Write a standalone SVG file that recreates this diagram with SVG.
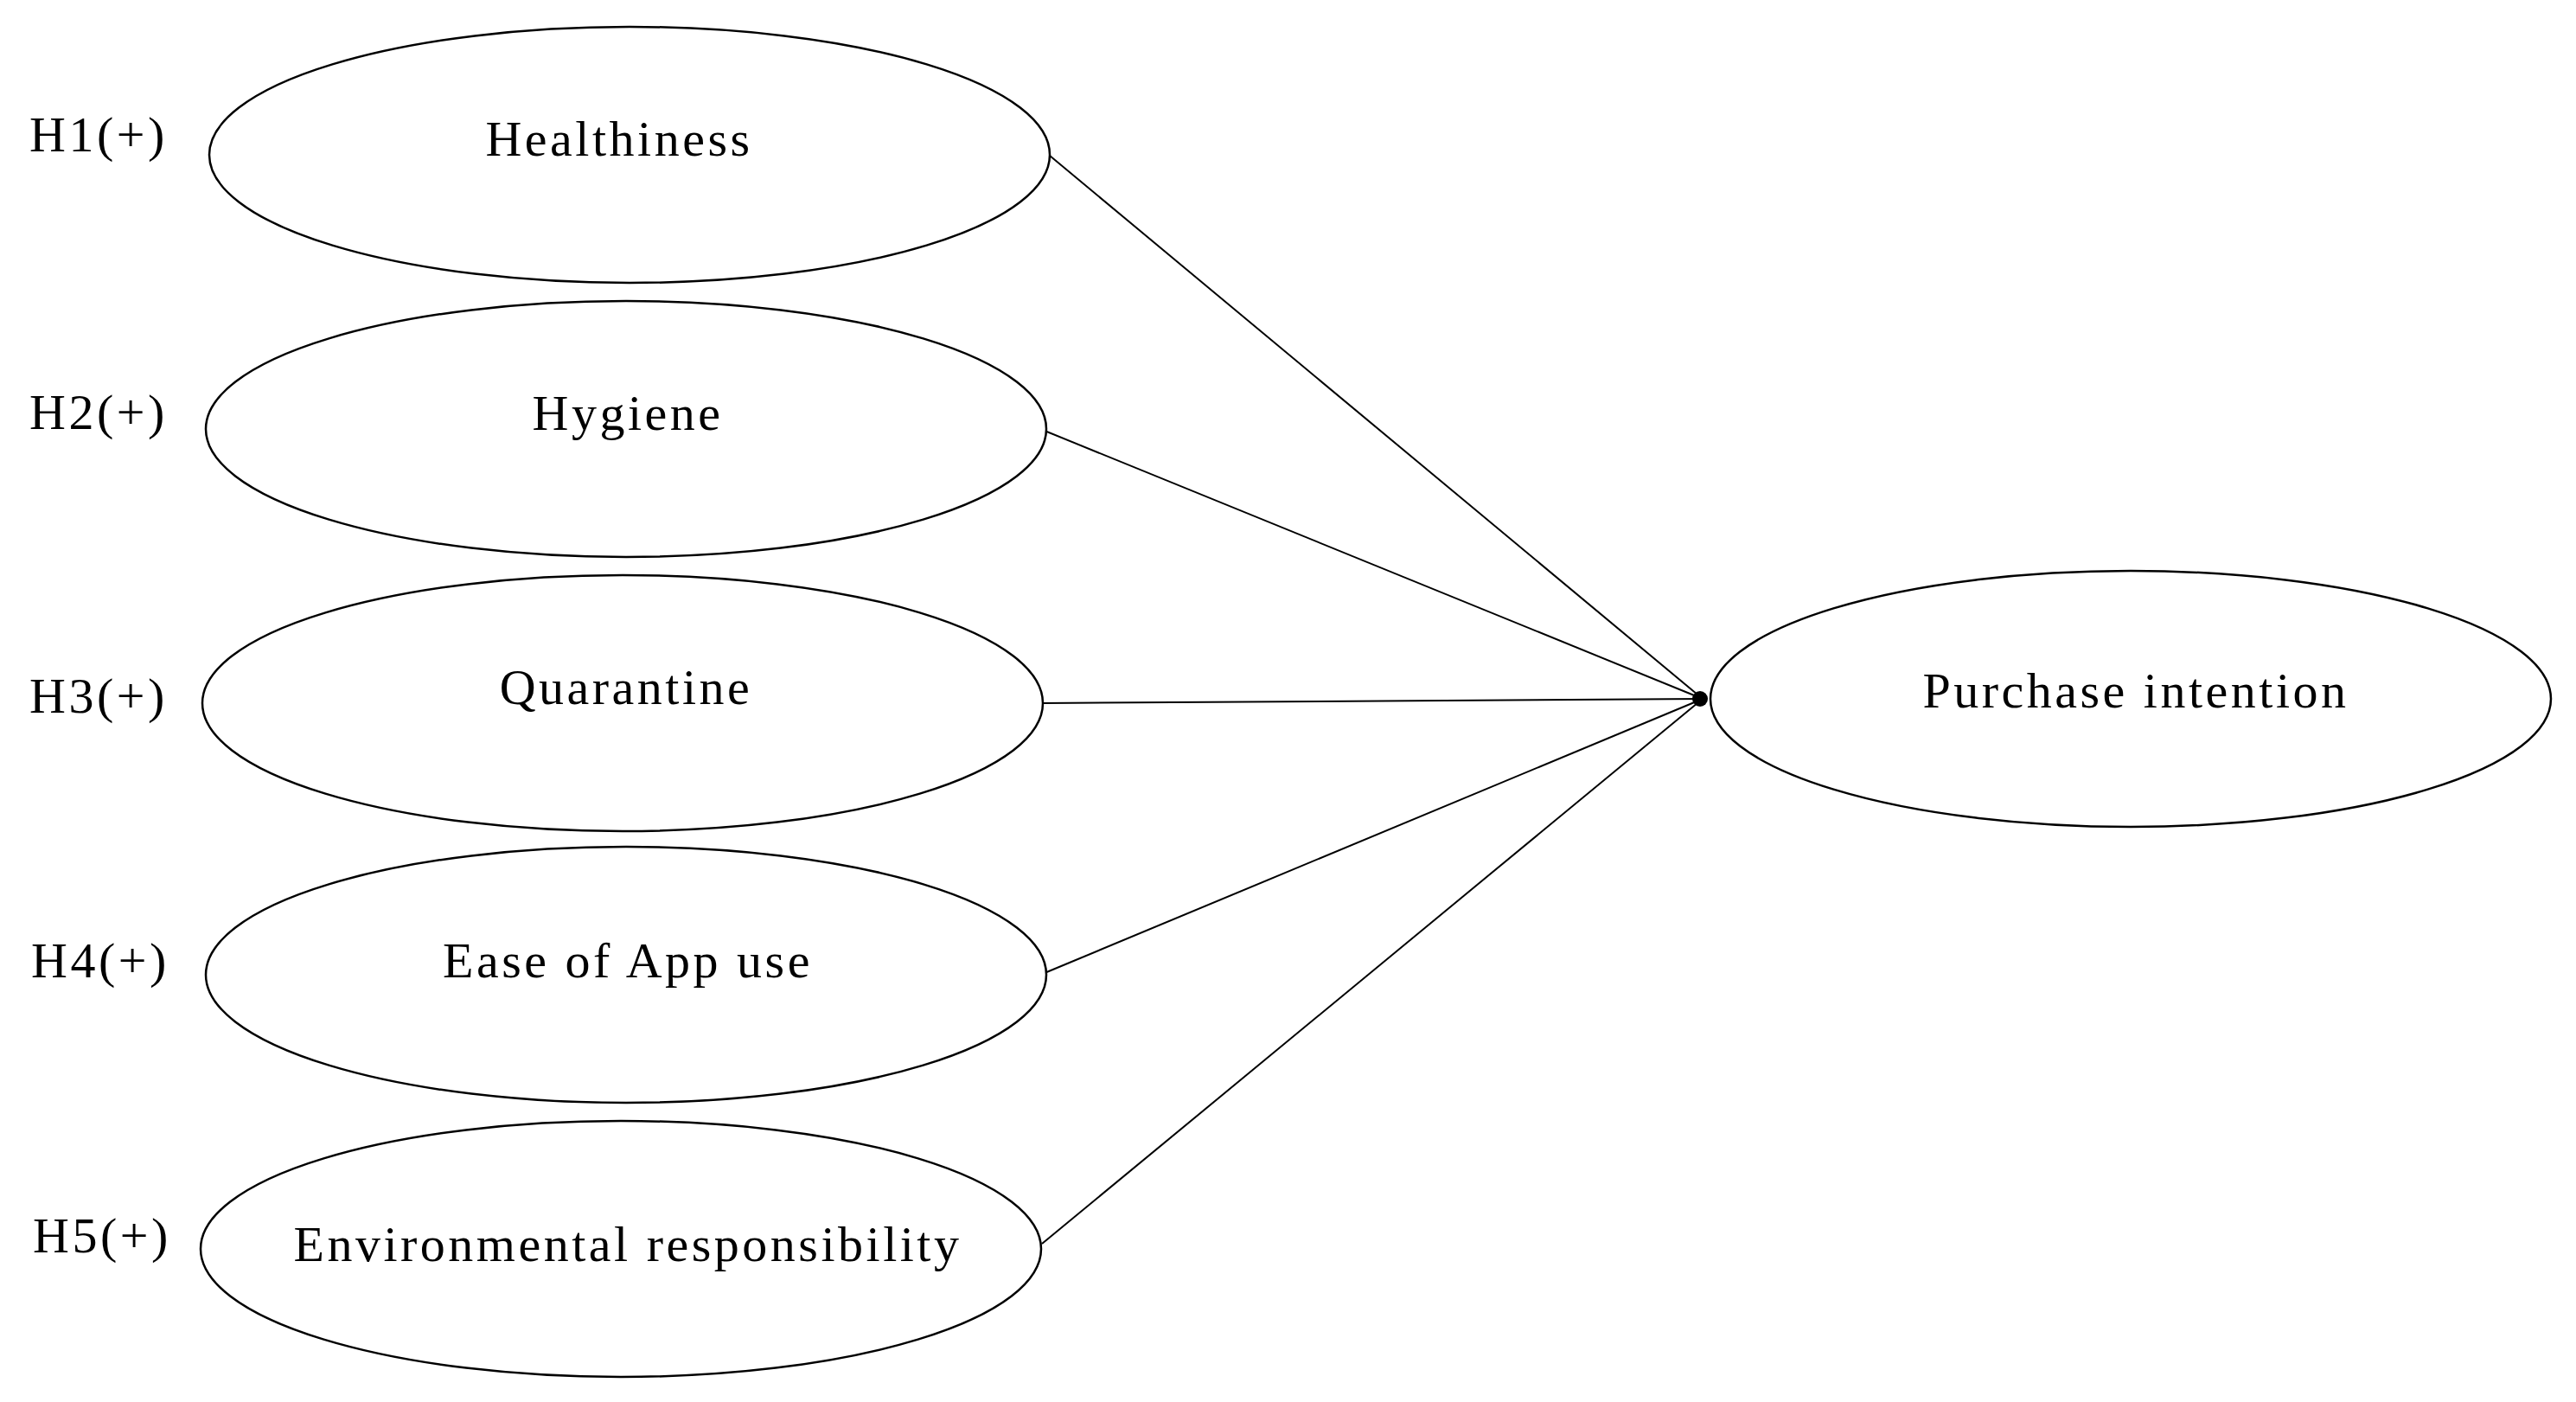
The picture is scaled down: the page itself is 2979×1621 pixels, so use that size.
<svg xmlns="http://www.w3.org/2000/svg" width="2979" height="1621" viewBox="0 0 2979 1621">
<style>
ellipse{fill:#fff;stroke:#000;stroke-width:2.5}
text{font-family:"Liberation Serif",serif;font-size:58px;letter-spacing:3.5px;fill:#000}
.c{text-anchor:middle}
line{stroke:#000;stroke-width:2}
</style>
<defs><marker id="a" viewBox="0 0 10 10" refX="9" refY="5" markerWidth="8" markerHeight="8" orient="auto" markerUnits="userSpaceOnUse"><path d="M0,0L10,5L0,10z"/></marker></defs>
<rect width="2979" height="1621" fill="#fff"/>
<g id="connectors">
<line x1="1214" y1="180" x2="1969" y2="808" marker-end="url(#a)"/>
<line x1="1208" y1="498" x2="1969" y2="808" marker-end="url(#a)"/>
<line x1="1205" y1="813" x2="1969" y2="808" marker-end="url(#a)"/>
<line x1="1208" y1="1125" x2="1969" y2="808" marker-end="url(#a)"/>
<line x1="1205" y1="1438" x2="1969" y2="808" marker-end="url(#a)"/>
<circle cx="1966" cy="808" r="9"/>
</g>
<g id="n1"><ellipse cx="728" cy="179" rx="486" ry="148"/><text class="c" x="716" y="180">Healthiness</text><text x="34" y="175">H1(+)</text></g>
<g id="n2"><ellipse cx="724" cy="496" rx="486" ry="148"/><text class="c" x="726" y="497">Hygiene</text><text x="34" y="496">H2(+)</text></g>
<g id="n3"><ellipse cx="720" cy="813" rx="486" ry="148"/><text class="c" x="724" y="814">Quarantine</text><text x="34" y="824">H3(+)</text></g>
<g id="n4"><ellipse cx="724" cy="1127" rx="486" ry="148"/><text class="c" x="726" y="1130">Ease of App use</text><text x="36" y="1130">H4(+)</text></g>
<g id="n5"><ellipse cx="718" cy="1444" rx="486" ry="148"/><text class="c" x="726" y="1458">Environmental responsibility</text><text x="38" y="1448">H5(+)</text></g>
<g id="n6"><ellipse cx="2464" cy="808" rx="486" ry="148"/><text class="c" x="2470" y="818">Purchase intention</text></g>
</svg>
